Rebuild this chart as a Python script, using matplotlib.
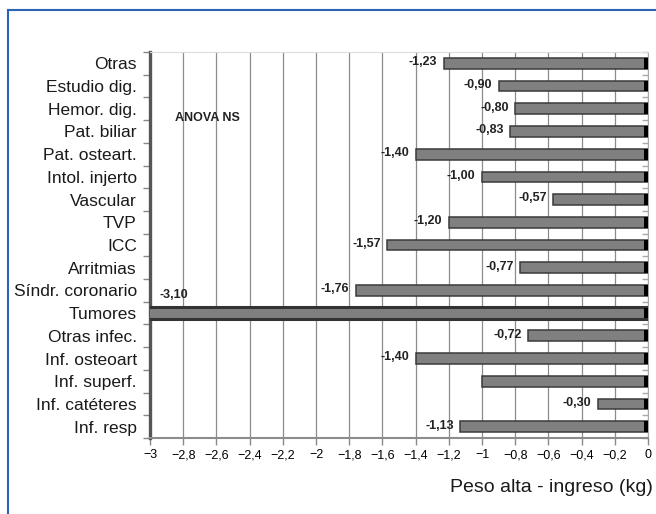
import matplotlib.pyplot as plt
from matplotlib.lines import Line2D
from matplotlib.ticker import FixedLocator, NullLocator
import numpy as np

# datos
categorias = ["Otras", "Estudio dig.", "Hemor. dig.", "Pat. biliar", "Pat. osteart.",
              "Intol. injerto", "Vascular", "TVP", "ICC", "Arritmias",
              "Síndr. coronario", "Tumores", "Otras infec.", "Inf. osteoart",
              "Inf. superf.", "Inf. catéteres", "Inf. resp"]
valores = [-1.23, -0.90, -0.80, -0.83, -1.40, -1.00, -0.57, -1.20, -1.57, -0.77,
           -1.76, -3.10, -0.72, -1.40, -1.00, -0.30, -1.13]
etiquetas = ["-1,23", "-0,90", "-0,80", "-0,83", "-1,40", "-1,00", "-0,57", "-1,20",
             "-1,57", "-0,77", "-1,76", "-3,10", "-0,72", "-1,40", "", "-0,30", "-1,13"]
xticks = [-3, -2.8, -2.6, -2.4, -2.2, -2, -1.8, -1.6, -1.4, -1.2, -1,
          -0.8, -0.6, -0.4, -0.2, 0]

plt.rcParams["font.family"] = ["Liberation Sans", "DejaVu Sans"]

fig = plt.figure(figsize=(6.56, 5.14), dpi=100)
fig.patch.set_facecolor("white")
ax = fig.add_axes([150 / 656, 1 - 438 / 514, 498 / 656, 386 / 514])

y = np.arange(len(categorias))
xmin = -3

ax.barh(y, valores, height=0.47, color="#808080", edgecolor="#3a3a3a",
        linewidth=1.1, zorder=3)
ax.barh(y, [-0.025] * len(y), height=0.47, color="black", zorder=4)

i_tum = categorias.index("Tumores")
ax.barh(i_tum, valores[i_tum], height=0.5, color="#808080", edgecolor="#333333",
        linewidth=2.2, zorder=3)

for i, (v, t) in enumerate(zip(valores, etiquetas)):
    if not t:
        continue
    if v < xmin:
        ax.text(xmin + 0.06, i - 0.8, t, ha="left", va="center",
                fontsize=9, fontweight="bold", color="#222222", zorder=5)
    else:
        ax.text(v - 0.04, i - 0.05, t, ha="right", va="center",
                fontsize=9, fontweight="bold", color="#222222", zorder=5)

ax.text(0.05, 0.83, "ANOVA NS", transform=ax.transAxes, ha="left", va="center",
        fontsize=9, fontweight="bold", color="#222222")

ax.set_xlim(xmin, 0)
ax.set_ylim(len(categorias) - 0.5, -0.5)

ax.set_xticks(xticks)
ax.set_xticklabels([f"{round(v, 1):g}".replace(".", ",").replace("-", "\u2212")
                    for v in xticks], fontsize=9)
ax.set_yticks(y)
ax.set_yticklabels(categorias, fontsize=12.5, color="#1a1a1a")
limites = np.arange(-0.5, len(categorias), 1)
ax.yaxis.set_minor_locator(FixedLocator(limites))
ax.tick_params(axis="y", which="major", length=0, pad=9.5)
ax.tick_params(axis="y", which="minor", length=5, width=1, color="#888888")
ax.tick_params(axis="x", length=5, width=1, color="#888888", pad=3)

# marcas pequeñas hacia dentro en el lado derecho
der = ax.secondary_yaxis("right")
der.yaxis.set_major_locator(FixedLocator(limites))
der.yaxis.set_minor_locator(NullLocator())
der.tick_params(axis="y", direction="in", length=4, width=1, color="#aaaaaa",
                labelright=False)
der.spines["right"].set_color("#aaaaaa")
der.spines["right"].set_linewidth(0.8)

ax.grid(axis="x", color="#8c8c8c", linewidth=0.9, zorder=0)
ax.set_axisbelow(True)

ax.spines["left"].set_color("#555555")
ax.spines["left"].set_linewidth(2.4)
ax.spines["bottom"].set_color("#8c8c8c")
ax.spines["bottom"].set_linewidth(1.5)
ax.spines["top"].set_color("#dddddd")
ax.spines["top"].set_linewidth(0.8)
ax.spines["right"].set_visible(False)

ax.set_xlabel("Peso alta - ingreso (kg)", fontsize=14, color="#1a1a1a", ha="right")
ax.xaxis.set_label_coords(1.01, -0.105)

# marco azul
fig.add_artist(Line2D([8 / 656, 8 / 656], [0, 1 - 10 / 514], color="#2a64b4",
                      linewidth=1.5, transform=fig.transFigure))
fig.add_artist(Line2D([8 / 656, 1], [1 - 10 / 514, 1 - 10 / 514], color="#2a64b4",
                      linewidth=1.5, transform=fig.transFigure))

fig.savefig("out.png", dpi=100)
